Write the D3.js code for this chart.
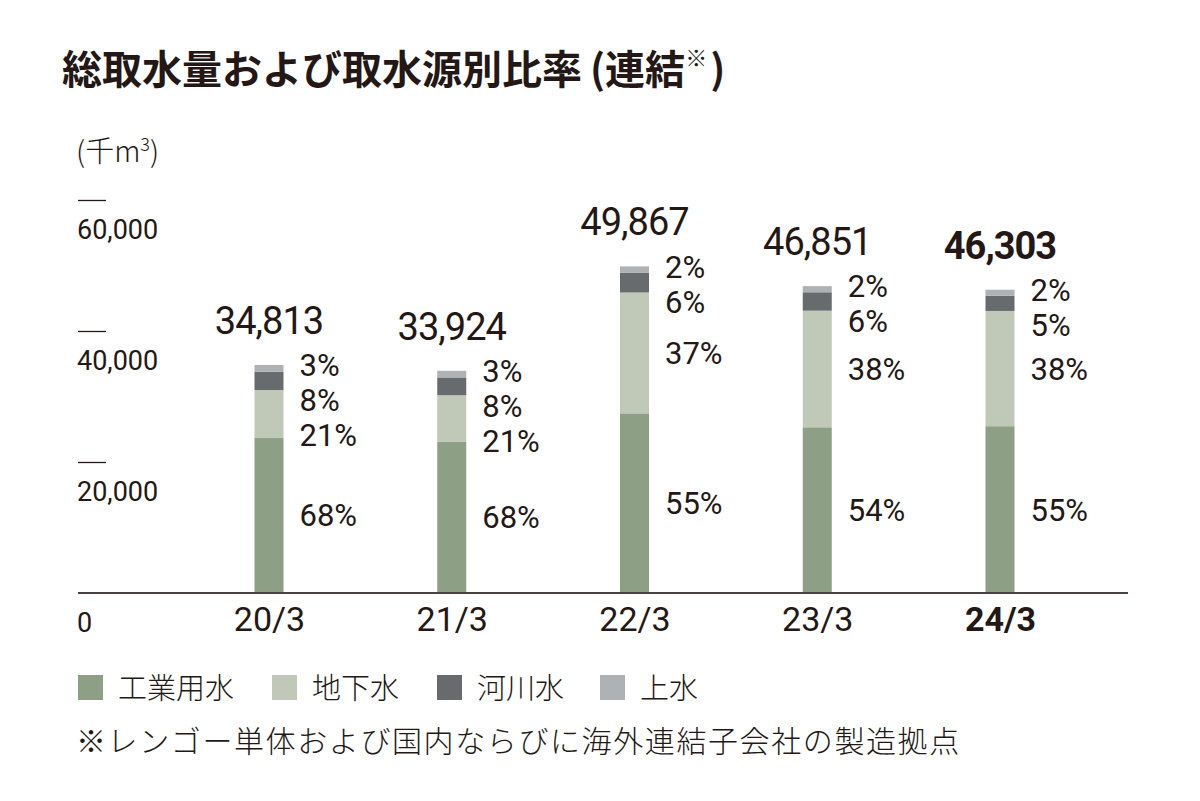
<!DOCTYPE html>
<html><head><meta charset="utf-8">
<script src="https://cdn.jsdelivr.net/npm/d3@7/dist/d3.min.js"></script>
<style>
html,body{margin:0;padding:0;background:#fff;}
svg{display:block;}
.num{font-family:Roboto,"Noto Sans",sans-serif;}
.jp{font-family:"Noto Sans CJK JP","Noto Sans",sans-serif;}
</style></head>
<body>
<svg id="chart" width="1200" height="801"></svg>
<script>
const years = ["20/3","21/3","22/3","23/3","24/3"];
const totals = [34813, 33924, 49867, 46851, 46303];
const seriesNames = ["工業用水","地下水","河川水","上水"];
const industrial = [23673, 23068, 27427, 25300, 25467];
const groundwater = [7311, 7124, 18451, 17803, 17595];
const river = [2785, 2714, 2992, 2811, 2315];
const tap = [1044, 1018, 997, 937, 926];
const pctIndustrial = ["68%","68%","55%","54%","55%"];
const pctGround = ["21%","21%","37%","38%","38%"];
const pctRiver = ["8%","8%","6%","6%","5%"];
const pctTap = ["3%","3%","2%","2%","2%"];
const yTicks = [0, 20000, 40000, 60000];
const colors = ["#8d9f85","#c0c9b7","#676b6e","#aeb2b5"];
const textColor = "#231815";

const svg = d3.select("#chart");
const x = d3.scalePoint().domain(years).range([269, 1000]);
const y = d3.scaleLinear().domain([0, 60000]).range([593, 200]);
const barW = 29;

// Title
const title = svg.append("text").attr("class","jp").attr("x",62).attr("y",84)
  .attr("font-size",40).attr("font-weight",700).attr("fill",textColor);
title.append("tspan").text("総取水量および取水源別比率");
title.append("tspan").attr("dx",8).text("(連結");
title.append("tspan").attr("font-size",22).attr("dy",-18).text("※");
title.append("tspan").attr("dy",18).attr("dx",3).text(")");

// unit
const unit = svg.append("text").attr("class","jp").attr("x",76).attr("y",162)
  .attr("font-size",29).attr("font-weight",300).attr("fill",textColor);
unit.append("tspan").text("(千m");
unit.append("tspan").attr("font-size",18).attr("dy",-11).text("3");
unit.append("tspan").attr("dy",11).text(")");

// y axis
const yAxis = d3.axisRight(y).tickValues(yTicks).tickSize(28)
  .tickFormat(d => d3.format(",")(d));
const yg = svg.append("g").attr("transform","translate(78,0)").call(yAxis);
yg.select(".domain").remove();
yg.selectAll(".tick line").attr("stroke",textColor).attr("stroke-width",1.3)
  .attr("display", d => d === 0 ? "none" : null);
yg.selectAll(".tick text").attr("class","num").attr("x",-1).attr("dy",38)
  .attr("text-anchor","start").attr("font-size",27).attr("fill",textColor)
  .attr("y",0);

// stacked data
const table = years.map((yr,i)=>({year:yr, values:[industrial[i],groundwater[i],river[i],tap[i]],
  pcts:[pctIndustrial[i],pctGround[i],pctRiver[i],pctTap[i]], total: totals[i]}));
const stack = d3.stack().keys([0,1,2,3]).value((d,k)=>d.values[k]);
const layers = stack(table);

svg.append("g").selectAll("g").data(layers).join("g")
  .attr("fill",(d,i)=>colors[i])
  .selectAll("rect").data(d=>d).join("rect")
  .attr("x", d=>x(d.data.year)-barW/2)
  .attr("width", barW)
  .attr("y", d=>y(d[1]))
  .attr("height", d=>y(d[0])-y(d[1]));

// baseline
svg.append("line").attr("x1",78).attr("x2",1128).attr("y1",y(0)).attr("y2",y(0))
  .attr("stroke","#4a4241").attr("stroke-width",2);

// x axis
const xAxis = d3.axisBottom(x).tickSize(0).tickPadding(0);
const xg = svg.append("g").attr("transform",`translate(0,${y(0)})`).call(xAxis);
xg.select(".domain").remove();
xg.selectAll(".tick text").attr("class","num").attr("y",38).attr("dy",0)
  .attr("font-size",34).attr("fill",textColor)
  .attr("font-weight",(d,i)=> i===years.length-1 ? 700 : 400);

// totals
svg.append("g").selectAll("text").data(table).join("text").attr("class","num")
  .attr("x", d=>x(d.year)).attr("y", d=>y(d.total)-31)
  .attr("text-anchor","middle").attr("font-size",38).attr("letter-spacing",-1)
  .attr("fill",textColor)
  .attr("font-weight",(d,i)=> i===years.length-1 ? 700 : 400)
  .text(d=>d3.format(",")(d.total));

// percent labels
const pctG = svg.append("g");
table.forEach((d,i)=>{
  const order = [3,2,1,0];
  let prev = null;
  order.forEach((k,j)=>{
    const seg = layers[k][i];
    const mid = (y(seg[0])+y(seg[1]))/2;
    let c = j===0 ? mid-3 : Math.max(mid, prev+35);
    prev = c;
    pctG.append("text").attr("class","num")
      .attr("x", x(d.year)+barW/2+16).attr("y", c+11)
      .attr("font-size",31).attr("fill",textColor).text(d.pcts[k]);
  });
});

// legend
const legendX = [78, 272, 437, 600];
const lg = svg.append("g");
seriesNames.forEach((n,i)=>{
  lg.append("rect").attr("x",legendX[i]).attr("y",675).attr("width",25).attr("height",25).attr("fill",colors[i]);
  lg.append("text").attr("class","jp").attr("x",legendX[i]+40).attr("y",699)
    .attr("font-size",29).attr("font-weight",300).attr("fill",textColor).text(n);
});

svg.append("text").attr("class","jp").attr("x",76).attr("y",752)
  .attr("font-size",30).attr("font-weight",300).attr("letter-spacing",1.6).attr("fill",textColor)
  .text("※レンゴー単体および国内ならびに海外連結子会社の製造拠点");
</script>
</body></html>
